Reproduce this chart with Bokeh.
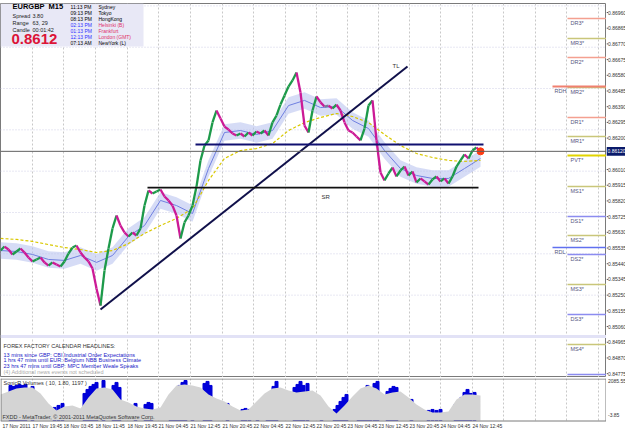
from bokeh.plotting import figure
from bokeh.models import Range1d, Label, Span, ColumnDataSource
from bokeh.layouts import column, row
from bokeh.core.properties import value
from bokeh.embed import file_html
from bokeh.resources import INLINE

FONT = "Liberation Sans"

# ---------------- data ----------------
BAR_STEP = 4          # closes sampled every 4 M15 bars
close = [
    0.85520, 0.85544, 0.85526, 0.85496, 0.85514, 0.85532, 0.85508, 0.85478, 0.85454, 0.85466,
    0.85478, 0.85448, 0.85429, 0.85448, 0.85435, 0.85423, 0.85454, 0.85502, 0.85538, 0.85550,
    0.85508, 0.85478, 0.85454, 0.85411, 0.85290, 0.85187, 0.85399, 0.85532, 0.85653, 0.85732,
    0.85671, 0.85629, 0.85605, 0.85629, 0.85611, 0.85653, 0.85792, 0.85883, 0.85865, 0.85877,
    0.85889, 0.85847, 0.85823, 0.85792, 0.85732, 0.85593, 0.85690, 0.85732, 0.85792, 0.85907,
    0.86065, 0.86155, 0.86186, 0.86295, 0.86367, 0.86319, 0.86270, 0.86252, 0.86228, 0.86216,
    0.86228, 0.86210, 0.86234, 0.86216, 0.86240, 0.86228, 0.86246, 0.86216, 0.86295, 0.86337,
    0.86403, 0.86458, 0.86512, 0.86549, 0.86597, 0.86476, 0.86276, 0.86234, 0.86367, 0.86452,
    0.86416, 0.86391, 0.86397, 0.86379, 0.86403, 0.86367, 0.86295, 0.86246, 0.86234, 0.86210,
    0.86186, 0.86258, 0.86397, 0.86428, 0.86186, 0.85992, 0.85944, 0.85986, 0.86022, 0.85968,
    0.86004, 0.86028, 0.85974, 0.85998, 0.85932, 0.85956, 0.85938, 0.85919, 0.85950, 0.85968,
    0.85938, 0.85956, 0.85925, 0.85968, 0.86028, 0.86065, 0.86101, 0.86077, 0.86125, 0.86143,
    0.86120,
]

MA_STEP = 16
ma_fast = [0.85520, 0.85514, 0.85496, 0.85466, 0.85460, 0.85490, 0.85448, 0.85490, 0.85605, 0.85671,
           0.85823, 0.85792, 0.85744, 0.86016, 0.86234, 0.86246, 0.86222, 0.86246, 0.86397, 0.86428,
           0.86385, 0.86391, 0.86307, 0.86258, 0.86125, 0.86016, 0.85974, 0.85956, 0.85956, 0.86016,
           0.86077]
ma_slow = [0.85593, 0.85587, 0.85575, 0.85556, 0.85538, 0.85526, 0.85508, 0.85520, 0.85562, 0.85623,
           0.85671, 0.85714, 0.85774, 0.85944, 0.86077, 0.86125, 0.86137, 0.86167, 0.86246, 0.86294,
           0.86325, 0.86349, 0.86331, 0.86294, 0.86222, 0.86155, 0.86107, 0.86083, 0.86065, 0.86059,
           0.86065]

VOL_STEP = 8
vol_avg = [1229, 1413, 1598, 1659, 1659, 1290, 676, 246, 492, 553,
           369, 1045, 1598, 1659, 1536, 922, 737, 492, 369, 307,
           430, 1229, 1782, 1844, 1782, 1659, 1229, 983, 799, 492,
           246, 307, 799, 1290, 1598, 1659, 1475, 1352, 1413, 1475,
           1168, 492, 61, 553, 1106, 1598, 1782, 1598, 1229, 1352,
           1413, 1045, 615, 307, 123, 123, 184, 922, 1229, 1229,
           1168]
spike_bars = [10, 13, 16, 19, 22, 25, 32, 54, 58, 62, 84, 87, 90, 93, 96, 103, 113, 116, 119,
              135, 145, 148, 151, 170, 173, 176, 179, 182, 185, 192, 204, 207, 210, 227,
              242, 245, 249, 257, 267, 270, 273, 276, 294, 297, 300, 303, 307, 321,
              334, 337, 340, 343, 346, 358, 361, 364, 367, 370, 374, 377, 387, 390, 393, 396,
              411, 428, 432, 436, 440, 455, 458, 461, 464, 467, 470, 474]
spike_vals = [1782, 1721, 1782, 1844, 1782, 1844, 1721, 430, 553, 676, 1290, 1536, 1721, 1844, 1967, 2085, 1782, 1967, 1659,
              676, 615, 737, 676, 1045, 1352, 1598, 1782, 1967, 2085, 1659, 1905, 2028, 1782, 676,
              307, 369, 307, 369, 922, 1352, 1721, 2028, 1659, 1844, 2028, 1782, 1905, 676,
              307, 553, 799, 1045, 1229, 922, 1290, 1536, 1782, 1659, 1905, 2028, 1413, 1598, 1721, 1659,
              922, 246, 307, 246, 307, 615, 860, 1045, 1352, 1536, 1290, 1352]

time_bars = [2, 32, 63, 95, 127, 158, 190, 222, 253, 285, 316, 347, 378, 409, 440, 472]
time_labels = ["17 Nov 2011", "17 Nov 19:45", "18 Nov 03:45", "18 Nov 11:45", "18 Nov 19:45",
               "21 Nov 04:45", "21 Nov 12:45", "21 Nov 20:45", "22 Nov 04:45", "22 Nov 12:45",
               "22 Nov 20:45", "23 Nov 04:45", "23 Nov 12:45", "23 Nov 20:45", "24 Nov 04:45",
               "24 Nov 12:45"]
grid_bars = [32, 63, 95, 127, 158, 190, 222, 253, 285, 316, 347, 378, 409, 440, 472, 503, 535, 566, 598]

price_ticks = [0.86960, 0.86865, 0.86770, 0.86675, 0.86580, 0.86485, 0.86390, 0.86295, 0.86200,
               0.86010, 0.85915, 0.85820, 0.85725, 0.85630, 0.85535, 0.85440, 0.85345,
               0.85250, 0.85155, 0.85060, 0.84965, 0.84870, 0.84775]
quarter_levels = [0.8700, 0.8675, 0.8650, 0.8625, 0.8600, 0.8575, 0.8550, 0.8525]
band_level = 0.8500

pivot_names = ["DR3*", "MR3*", "DR2*", "MR2*", "DR1*", "MR1*", "PVT*", "MS1*", "DS1*", "MS2*",
               "DS2*", "MS3*", "DS3*", "MS4*", ""]
pivot_prices = [0.86924, 0.86803, 0.86688, 0.86506, 0.86325, 0.86210, 0.86095, 0.85907, 0.85726,
                0.85611, 0.85496, 0.85314, 0.85133, 0.84951, 0.84770]
rdh_price, rdl_price = 0.86512, 0.85538

tl_bars, tl_prices = [100, 407], [0.85163, 0.86633]
res_bars, res_price = [195, 483], 0.86161
sr_bars, sr_price = [147, 478], 0.85901
last_bar, last_price = 480, 0.86120
vol_max, vol_min = 2085.55, -3.85

# ---------------- layout helpers (pixel -> data, for placing annotations) ----------------
def Y(py):      # canvas pixel row -> price
    return 0.870326 - 0.0000605 * py

def V(py):      # canvas pixel row -> volume value (volume panel)
    return 2085.55 - (py - 380) * 61.45

def txt(fig, x, y, s, size="5.5px", color="#222222", bold=False, align="left",
        baseline="middle"):
    fig.add_layout(Label(x=x, y=y, text=s, text_font=FONT, text_font_size=size,
                         text_color=color, text_font_style="bold" if bold else "normal",
                         text_align=align, text_baseline=baseline))

def bare(width, height, x_range, y_range, top=0, bottom=0, outline=None):
    f = figure(width=width, height=height, x_range=x_range, y_range=y_range,
               output_backend="svg", toolbar_location=None, x_axis_location=None,
               y_axis_location=None, min_border_left=0, min_border_right=0,
               min_border_top=top, min_border_bottom=bottom, outline_line_color=outline,
               background_fill_color="white", border_fill_color="white")
    f.grid.grid_line_color = None
    return f

# ---------------- main price panel ----------------
main = bare(606, 377, Range1d(0, 606), Range1d(Y(377), Y(3)), top=3, bottom=0, outline="#7a7a7a")

for b in grid_bars:
    main.add_layout(Span(location=b, dimension="height", line_color="#c8c8c8",
                         line_dash="2 2", line_width=1, level="underlay"))
for q in quarter_levels:
    main.add_layout(Span(location=q, dimension="width", line_color="#cfcfe6",
                         line_dash="1 2", line_width=1, level="underlay"))
main.add_layout(Span(location=band_level, dimension="width", line_color="#e2e2f6",
                     line_width=3, level="underlay"))

# info box background
main.quad(left=[0], right=[143], top=[Y(3)], bottom=[Y(46)], fill_color="#e8e8f6",
          line_color=None)

# MA band + lines
xm = [MA_STEP * i for i in range(len(ma_fast))]
main.varea(x=xm, y1=[m - 0.00050 for m in ma_fast], y2=[m + 0.00050 for m in ma_fast],
           fill_color="#b4c0ee", fill_alpha=0.55)
main.line(xm, ma_fast, line_color="#6f7fe0", line_width=1)
main.line(xm, ma_slow, line_color="#d9c800", line_width=1.2, line_dash="3 2")

# price path
xb = [BAR_STEP * i for i in range(len(close))]
cols = []
for i in range(1, len(close)):
    d = close[i] - close[i - 1]
    cols.append("#1d9a4a" if d > 0.00012 else ("#cc1a96" if d < -0.00012 else "#767c98"))
src = ColumnDataSource(dict(x0=xb[:-1], y0=close[:-1], x1=xb[1:], y1=close[1:], c=cols))
main.segment("x0", "y0", "x1", "y1", line_color="c", line_width=2.3, source=src)

# drawn objects
main.line(tl_bars, tl_prices, line_color="#10104a", line_width=2)
main.line(res_bars, [res_price, res_price], line_color="#101070", line_width=2)
main.line(sr_bars, [sr_price, sr_price], line_color="#111111", line_width=1.8)
main.add_layout(Span(location=last_price, dimension="width", line_color="#606060", line_width=1))
main.scatter([last_bar], [last_price], size=7, color="#ff3a10")

# pivot levels
pcol = {"DR": "#f4a090", "MR": "#c9c67a", "MS": "#c9c67a", "DS": "#8c8cf0", "PV": "#e2d400", "": "#8c8cf0"}
for n, pr in zip(pivot_names, pivot_prices):
    c = pcol[n[:2]]
    main.segment(x0=[567], y0=[pr], x1=[606], y1=[pr], line_color=c,
                 line_width=2 if n.startswith("PV") else 1.5)
    if n:
        txt(main, 570, pr - 0.00007, n, size="5.5px", color="#55557f", baseline="top")
main.segment(x0=[552], y0=[rdh_price], x1=[606], y1=[rdh_price], line_color="#f08070", line_width=2)
main.segment(x0=[552], y0=[rdl_price], x1=[606], y1=[rdl_price], line_color="#6070f0", line_width=1.5)
txt(main, 554, rdh_price - 0.00007, "RDH", color="#55557f", baseline="top")
txt(main, 554, rdl_price - 0.00007, "RDL", color="#55557f", baseline="top")

txt(main, 392, Y(65), "TL", size="6px", color="#333333")
txt(main, 321, Y(196), "SR", size="6px", color="#333333")

# info box text
txt(main, 12, Y(6), "EURGBP", size="7.5px", color="#000000", bold=True)
txt(main, 48, Y(6), "M15", size="7.5px", color="#000000", bold=True)
for r_, (k, v) in enumerate([("Spread", "3.80"), ("Range", "63, 29"), ("Candle", "00:01:42")]):
    txt(main, 12, Y(15 + 7 * r_), k, size="5.5px", color="#222222")
    txt(main, 32, Y(15 + 7 * r_), v, size="5.5px", color="#222222")
txt(main, 11, Y(38), "0.8612", size="15px", color="#dc1437", bold=True)
zones = [("11:13 PM", "Sydney", "#000000", "#000000"), ("09:13 PM", "Tokyo", "#000000", "#000000"),
         ("08:13 PM", "HongKong", "#000000", "#000000"),
         ("02:13 PM", "Helsinki (B)", "#3030ff", "#e0306a"),
         ("01:13 PM", "Frankfurt", "#3030ff", "#e0306a"),
         ("12:13 PM", "London (GMT)", "#3030ff", "#e0306a"),
         ("07:13 AM", "NewYork (L)", "#000000", "#000000")]
for i, (t, z, c1, c2) in enumerate(zones):
    txt(main, 70, Y(6 + 6 * i), t, size="5px", color=c1)
    txt(main, 98, Y(6 + 6 * i), z, size="5px", color=c2)

# news block
txt(main, 3, Y(345), "FOREX FACTORY CALENDAR HEADLINES:", size="5.5px", color="#333333")
news = ["13 mins since GBP: CBI Industrial Order Expectations",
        "1 hrs 47 mins until EUR: Belgium NBB Business Climate",
        "23 hrs 47 mins until GBP: MPC Member Weale Speaks"]
for i, s in enumerate(news):
    txt(main, 3, Y(354 + 5.7 * i), s, size="5.5px", color="#2222c8")
txt(main, 3, Y(371), "(4) Additional news events not scheduled", size="5.5px", color="#aaaaaa")

# right price scale (own narrow panel sharing the price range)
pscale = bare(19, 377, Range1d(0, 19), main.y_range, top=3, bottom=0)
pscale.segment(x0=[0] * len(price_ticks), y0=price_ticks, x1=[1.5] * len(price_ticks),
               y1=price_ticks, line_color="#555555")
pscale.text(x=[1.5] * len(price_ticks), y=price_ticks, text=["%.5f" % t for t in price_ticks],
            text_font=value(FONT), text_font_size="5px", text_color="#333333",
            text_baseline="middle")
pscale.quad(left=[0], right=[19], top=[last_price + 0.00026], bottom=[last_price - 0.00026],
            fill_color="#0a1a6a", line_color=None)
pscale.text(x=[1], y=[last_price], text=["%.5f" % last_price], text_font=value(FONT),
            text_font_size="5px", text_color="white", text_baseline="middle")

# ---------------- volume panel (frame runs down to the time labels) ----------------
vol = bare(606, 52, main.x_range, Range1d(V(429), V(378)), top=1, bottom=0, outline=None)
vol.segment(x0=grid_bars, y0=[V(420)] * len(grid_bars), x1=grid_bars, y1=[V(378)] * len(grid_bars),
            line_color="#c8c8c8", line_dash="2 2", line_width=1)
vol.vbar(x=spike_bars, top=spike_vals, bottom=V(420), width=3, color="#0000d8")
xv = [VOL_STEP * i for i in range(len(vol_avg))]
vol.varea(x=xv, y1=[V(420)] * len(xv), y2=vol_avg, fill_color="#d4d4d4")
vol.add_layout(Span(location=V(378.5), dimension="width", line_color="#7a7a7a", line_width=1))
vol.add_layout(Span(location=V(420.5), dimension="width", line_color="#7a7a7a", line_width=1))
vol.segment(x0=[605.5], y0=[V(420.5)], x1=[605.5], y1=[V(378)], line_color="#7a7a7a")
vol.segment(x0=[0.5], y0=[V(420.5)], x1=[0.5], y1=[V(378)], line_color="#7a7a7a")
txt(vol, 3, V(382), "SonicR Volumes ( 10, 1.80, 1197 )", size="5.5px", color="#333333")
txt(vol, 2, V(416), "FXDD - MetaTrader, \u00a9 2001-2011 MetaQuotes Software Corp.", size="5.5px",
    color="#333333")
vol.text(x=time_bars, y=[V(425)] * len(time_bars), text=time_labels, text_font=value(FONT),
         text_font_size="5px", text_color="#333333", text_baseline="middle")

vscale = bare(19, 52, Range1d(0, 19), vol.y_range, top=1, bottom=0)
vscale.text(x=[1.5, 1.5], y=[vol_max, vol_min], text=["%.2f" % vol_max, "%.2f" % vol_min],
            text_font=value(FONT), text_font_size="5px", text_color="#333333",
            text_baseline="middle")

layout = column(row(main, pscale, spacing=0), row(vol, vscale, spacing=0), spacing=0)
open("out.html", "w").write(file_html(layout, INLINE))
